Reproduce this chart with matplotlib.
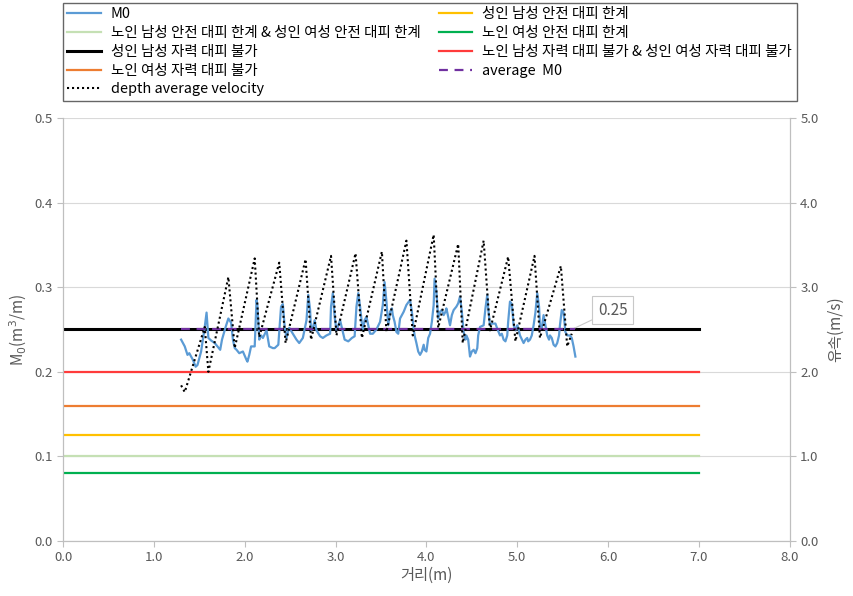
import matplotlib
matplotlib.use("Agg")
import matplotlib.pyplot as plt

plt.rcParams['font.family'] = ['Noto Sans CJK KR', 'DejaVu Sans']

# M0 along the channel (m^3/m)
m0_x = [1.30, 1.34, 1.37, 1.39, 1.43, 1.46, 1.48, 1.52, 1.56, 1.58, 1.60, 1.63, 1.67, 1.70,
        1.73, 1.75, 1.79, 1.82, 1.85, 1.87, 1.89, 1.91, 1.94, 1.98, 2.02, 2.03, 2.05, 2.07,
        2.11, 2.13, 2.14, 2.16, 2.18, 2.20, 2.24, 2.27, 2.31, 2.33, 2.37, 2.40, 2.42, 2.44,
        2.46, 2.48, 2.49, 2.53, 2.57, 2.60, 2.64, 2.68, 2.70, 2.72, 2.73, 2.75, 2.77, 2.79,
        2.83, 2.86, 2.90, 2.94, 2.95, 2.97, 2.99, 3.01, 3.03, 3.05, 3.07, 3.10, 3.14, 3.18,
        3.21, 3.23, 3.25, 3.27, 3.29, 3.30, 3.32, 3.34, 3.38, 3.41, 3.45, 3.49, 3.52, 3.54,
        3.56, 3.58, 3.60, 3.62, 3.63, 3.65, 3.67, 3.69, 3.71, 3.75, 3.78, 3.82, 3.84, 3.86,
        3.87, 3.89, 3.91, 3.93, 3.95, 3.97, 3.98, 4.00, 4.02, 4.04, 4.06, 4.08, 4.09, 4.11,
        4.13, 4.15, 4.17, 4.19, 4.21, 4.22, 4.24, 4.26, 4.28, 4.30, 4.33, 4.35, 4.37, 4.39,
        4.41, 4.43, 4.44, 4.46, 4.48, 4.50, 4.52, 4.54, 4.56, 4.57, 4.59, 4.63, 4.65, 4.67,
        4.68, 4.70, 4.72, 4.76, 4.78, 4.81, 4.83, 4.85, 4.87, 4.89, 4.90, 4.92, 4.94, 4.96,
        4.98, 5.00, 5.01, 5.03, 5.07, 5.09, 5.11, 5.12, 5.14, 5.16, 5.18, 5.20, 5.22, 5.24,
        5.25, 5.27, 5.29, 5.31, 5.33, 5.35, 5.36, 5.38, 5.40, 5.42, 5.44, 5.46, 5.47, 5.49,
        5.51, 5.53, 5.55, 5.58, 5.60, 5.62, 5.64]
m0 = [0.238, 0.230, 0.220, 0.222, 0.214, 0.206, 0.208, 0.224, 0.253, 0.270, 0.240, 0.237, 0.234, 0.230,
      0.226, 0.238, 0.253, 0.263, 0.258, 0.238, 0.228, 0.226, 0.222, 0.224, 0.214, 0.212, 0.220, 0.230,
      0.230, 0.285, 0.278, 0.238, 0.243, 0.240, 0.249, 0.230, 0.228, 0.228, 0.232, 0.277, 0.280, 0.253,
      0.240, 0.249, 0.252, 0.245, 0.238, 0.234, 0.240, 0.261, 0.291, 0.273, 0.249, 0.252, 0.261, 0.249,
      0.242, 0.240, 0.243, 0.245, 0.277, 0.293, 0.265, 0.249, 0.255, 0.261, 0.252, 0.238, 0.236, 0.240,
      0.242, 0.277, 0.293, 0.277, 0.257, 0.249, 0.261, 0.265, 0.245, 0.245, 0.250, 0.259, 0.279, 0.306,
      0.283, 0.255, 0.271, 0.275, 0.267, 0.259, 0.247, 0.245, 0.263, 0.271, 0.279, 0.285, 0.271, 0.251,
      0.243, 0.234, 0.224, 0.220, 0.224, 0.232, 0.226, 0.224, 0.240, 0.245, 0.259, 0.279, 0.310, 0.295,
      0.263, 0.271, 0.273, 0.267, 0.271, 0.275, 0.265, 0.255, 0.267, 0.273, 0.277, 0.281, 0.289, 0.271,
      0.247, 0.238, 0.243, 0.238, 0.218, 0.224, 0.226, 0.222, 0.228, 0.243, 0.253, 0.255, 0.275, 0.291,
      0.275, 0.255, 0.257, 0.257, 0.251, 0.243, 0.245, 0.238, 0.236, 0.243, 0.259, 0.283, 0.280, 0.255,
      0.249, 0.255, 0.252, 0.243, 0.234, 0.238, 0.240, 0.236, 0.238, 0.243, 0.255, 0.270, 0.293, 0.277,
      0.255, 0.252, 0.267, 0.255, 0.243, 0.238, 0.243, 0.240, 0.232, 0.230, 0.234, 0.243, 0.255, 0.273,
      0.270, 0.247, 0.243, 0.243, 0.240, 0.230, 0.218]

# depth average velocity (m/s), right axis
vel_x = [1.30, 1.34, 1.56, 1.60, 1.82, 1.89, 2.11, 2.16, 2.38, 2.45, 2.67, 2.73, 2.95, 3.01,
         3.22, 3.29, 3.51, 3.56, 3.78, 3.85, 4.08, 4.13, 4.35, 4.40, 4.63, 4.70, 4.90, 4.98,
         5.19, 5.25, 5.48, 5.55, 5.60]
vel = [1.84, 1.76, 2.53, 2.00, 3.12, 2.28, 3.34, 2.41, 3.29, 2.34, 3.33, 2.38, 3.37, 2.43,
       3.40, 2.40, 3.42, 2.47, 3.55, 2.43, 3.62, 2.52, 3.51, 2.34, 3.55, 2.49, 3.36, 2.36,
       3.37, 2.40, 3.25, 2.30, 2.45]

avg_m0 = 0.25

# threshold lines: (label, value, colour)
limit_x = [0.0, 7.0]
limits = [
    ("성인 남성 안전 대피 한계", 0.125, "#ffc000"),
    ("노인 남성 안전 대피 한계 & 성인 여성 안전 대피 한계", 0.10, "#c5e0b4"),
    ("노인 여성 안전 대피 한계", 0.08, "#00b050"),
    ("성인 남성 자력 대피 불가", 0.25, "#000000"),
    ("노인 남성 자력 대피 불가 & 성인 여성 자력 대피 불가", 0.20, "#ff3b3b"),
    ("노인 여성 자력 대피 불가", 0.16, "#ed7d31"),
]

grey = "#595959"
fig = plt.figure(figsize=(8.54, 5.96), dpi=100)
ax = fig.add_axes([0.0738, 0.0923, 0.851, 0.7097])
ax2 = ax.twinx()

handles = {}
for label, val, col in limits:
    lw = 2.2 if col == "#000000" else 1.6
    h, = ax.plot(limit_x, [val, val], color=col, lw=lw, zorder=2)
    handles[label] = h

h_m0, = ax.plot(m0_x, m0, color="#5b9bd5", lw=1.6, zorder=3)
h_avg, = ax.plot([m0_x[0], m0_x[-1]], [avg_m0, avg_m0], color="#7030a0", lw=1.6,
                 ls=(0, (4, 3)), zorder=4)
h_vel, = ax2.plot(vel_x, vel, color="black", lw=1.5, ls=(0, (1, 1.4)))

ax.annotate("0.25", xy=(m0_x[-3], avg_m0), xytext=(6.05, 0.273), fontsize=11, color=grey,
            ha="center", va="center",
            bbox=dict(boxstyle="square,pad=0.35", fc="white", ec="#c8c8c8", lw=0.8),
            arrowprops=dict(arrowstyle="-", color="#c8c8c8", lw=0.8, shrinkA=0, shrinkB=0))

ax.set_xlim(0, 8)
ax.set_ylim(0, 0.5)
ax2.set_ylim(0, 5)
ax.set_xticks([i * 1.0 for i in range(9)])
ax.set_xticklabels([f"{i:.1f}" for i in range(9)])
ax.set_yticks([i / 10 for i in range(6)])
ax.set_yticklabels([f"{i / 10:.1f}" for i in range(6)])
ax2.set_yticks(range(6))
ax2.set_yticklabels([f"{i:.1f}" for i in range(6)])

ax.grid(axis="y", color="#d9d9d9", lw=0.8)
ax.set_axisbelow(True)
for a in (ax, ax2):
    a.spines["top"].set_visible(False)
    for s in ("left", "right", "bottom"):
        a.spines[s].set_color("#bfbfbf")
    a.tick_params(colors="#bfbfbf", labelcolor=grey, labelsize=9.5, length=4)

ax.set_xlabel("거리(m)", fontsize=11, color=grey, labelpad=2)
ax.set_ylabel("M$_0$(m$^3$/m)", fontsize=11, color=grey, labelpad=4)
ax2.set_ylabel("유속(m/s)", fontsize=11, color=grey, labelpad=6)

leg_handles = [h_m0,
               handles["노인 남성 안전 대피 한계 & 성인 여성 안전 대피 한계"],
               handles["성인 남성 자력 대피 불가"],
               handles["노인 여성 자력 대피 불가"],
               h_vel,
               handles["성인 남성 안전 대피 한계"],
               handles["노인 여성 안전 대피 한계"],
               handles["노인 남성 자력 대피 불가 & 성인 여성 자력 대피 불가"],
               h_avg]
leg_labels = ["M0",
              "노인 남성 안전 대피 한계 & 성인 여성 안전 대피 한계",
              "성인 남성 자력 대피 불가",
              "노인 여성 자력 대피 불가",
              "depth average velocity",
              "성인 남성 안전 대피 한계",
              "노인 여성 안전 대피 한계",
              "노인 남성 자력 대피 불가 & 성인 여성 자력 대피 불가",
              "average  M0"]
leg = fig.legend(leg_handles, leg_labels, ncol=2, loc="upper left",
                 bbox_to_anchor=(0.0738, 0.995),
                 fontsize=10.45, frameon=True, fancybox=False, edgecolor="#404040",
                 handlelength=2.3, labelspacing=0.33, borderaxespad=0.0, borderpad=0.3,
                 handletextpad=0.7, columnspacing=1.25, labelcolor="black")
leg.get_frame().set_linewidth(1.0)

fig.savefig("out.png", dpi=100)
